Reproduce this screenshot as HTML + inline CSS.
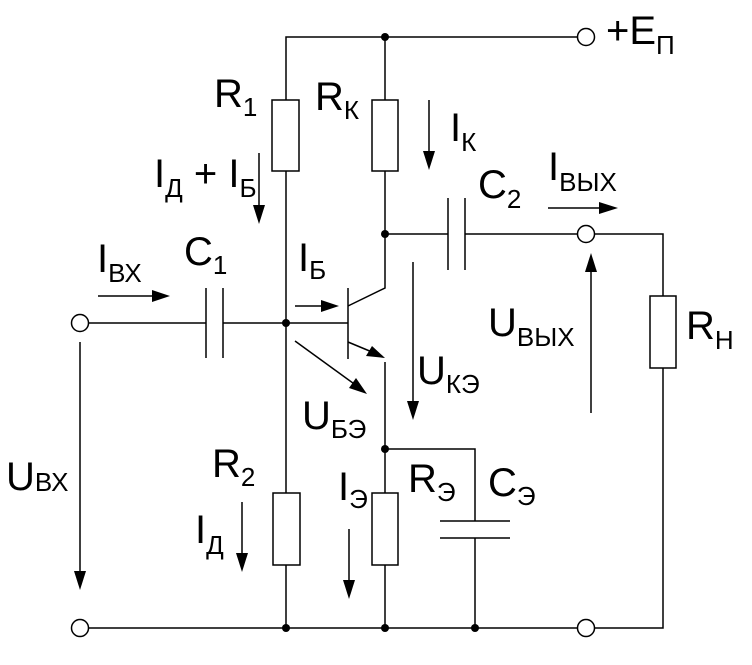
<!DOCTYPE html>
<html><head><meta charset="utf-8"><style>
html,body{margin:0;padding:0;background:#fff}
svg{display:block}
text{font-family:"Liberation Sans",sans-serif;fill:#000}
.m{font-size:40px}
.s{font-size:26px}
</style></head><body>
<svg width="752" height="665" viewBox="0 0 752 665" xmlns="http://www.w3.org/2000/svg">
<g stroke="#000" stroke-width="1.5" fill="none">
<polyline points="286,100 286,37 577,37"/>
<line x1="385" y1="37" x2="385" y2="100"/>
<rect x="272" y="100" width="27" height="71"/>
<line x1="286" y1="171" x2="286" y2="493"/>
<rect x="273" y="493" width="27" height="72"/>
<line x1="286" y1="565" x2="286" y2="628"/>
<rect x="372" y="100" width="26" height="71"/>
<polyline points="385,171 385,288 348,306"/>
<line x1="385" y1="234" x2="448" y2="234"/>
<line x1="448" y1="198" x2="448" y2="270"/>
<line x1="465" y1="198" x2="465" y2="270"/>
<line x1="465" y1="234" x2="577" y2="234"/>
<polyline points="594,234 663,234 663,296"/>
<rect x="650" y="296" width="26" height="72"/>
<polyline points="663,368 663,628 594,628"/>
<line x1="88" y1="323" x2="206" y2="323"/>
<line x1="206" y1="288" x2="206" y2="358"/>
<line x1="223" y1="288" x2="223" y2="358"/>
<line x1="223" y1="323" x2="348" y2="323"/>
<line x1="348" y1="288" x2="348" y2="359"/>
<line x1="348" y1="342" x2="372" y2="352"/>
<line x1="385" y1="362" x2="385" y2="493"/>
<polyline points="385,449 475,449 475,521"/>
<line x1="440" y1="521" x2="510" y2="521"/>
<line x1="440" y1="538" x2="510" y2="538"/>
<line x1="475" y1="538" x2="475" y2="628"/>
<rect x="372" y="493" width="26" height="72"/>
<line x1="385" y1="565" x2="385" y2="628"/>
<line x1="88" y1="628" x2="577" y2="628"/>
<circle cx="586" cy="37" r="8.5"/>
<circle cx="586" cy="234" r="8.5"/>
<circle cx="80" cy="323" r="8.5"/>
<circle cx="80" cy="628" r="8.5"/>
<circle cx="586" cy="628" r="8.5"/>
<line x1="98" y1="296" x2="156" y2="296"/>
<line x1="295" y1="306" x2="326" y2="306"/>
<line x1="295" y1="341" x2="357" y2="386"/>
<line x1="413" y1="262" x2="413" y2="402"/>
<line x1="429" y1="100" x2="429" y2="152"/>
<line x1="259" y1="153" x2="259" y2="206"/>
<line x1="548" y1="208" x2="600" y2="208"/>
<line x1="591" y1="271" x2="591" y2="413"/>
<line x1="80" y1="342" x2="80" y2="572"/>
<line x1="242" y1="502" x2="242" y2="554"/>
<line x1="349" y1="529" x2="349" y2="581"/>
</g>
<g fill="#000">
<circle cx="385" cy="37" r="4"/>
<circle cx="385" cy="234" r="4"/>
<circle cx="286" cy="323" r="4"/>
<circle cx="385" cy="449" r="4"/>
<circle cx="286" cy="628" r="4"/>
<circle cx="385" cy="628" r="4"/>
<circle cx="475" cy="628" r="4"/>
<polygon points="170,296 152,290 152,302"/>
<polygon points="339,306 321,300 321,312"/>
<polygon points="385,358 366,356 372,346"/>
<polygon points="367,394 349,388 356,378"/>
<polygon points="413,420 407,401 419,401"/>
<polygon points="429,170 423,151 435,151"/>
<polygon points="259,224 253,205 265,205"/>
<polygon points="618,208 599,202 599,214"/>
<polygon points="591,253 585,272 597,272"/>
<polygon points="80,590 74,571 86,571"/>
<polygon points="242,572 236,553 248,553"/>
<polygon points="349,599 343,580 355,580"/>
</g>
<text class="m" x="606" y="44">+E<tspan class="s" dy="10">П</tspan></text>
<text class="m" x="214" y="107">R<tspan class="s" dy="9">1</tspan></text>
<text class="m" x="315" y="110">R<tspan class="s" dy="9">К</tspan></text>
<text class="m" x="450" y="141">I<tspan class="s" dy="10">К</tspan></text>
<text class="m" x="154" y="187">I<tspan class="s" dy="10">Д</tspan><tspan dy="-10"> + </tspan>I<tspan class="s" dy="10">Б</tspan></text>
<text class="m" x="478" y="198">C<tspan class="s" dy="10">2</tspan></text>
<text class="m" x="548" y="180">I<tspan class="s" dy="11">ВЫХ</tspan></text>
<text class="m" x="97" y="272">I<tspan class="s" dy="10">ВХ</tspan></text>
<text class="m" x="184" y="265">C<tspan class="s" dy="9">1</tspan></text>
<text class="m" x="298" y="271">I<tspan class="s" dy="8">Б</tspan></text>
<text class="m" x="488" y="336">U<tspan class="s" dy="10">ВЫХ</tspan></text>
<text class="m" x="686" y="339">R<tspan class="s" dy="10">Н</tspan></text>
<text class="m" x="417" y="384">U<tspan class="s" dy="9">КЭ</tspan></text>
<text class="m" x="302" y="429">U<tspan class="s" dy="9">БЭ</tspan></text>
<text class="m" x="6" y="490">U<tspan class="s" dy="1">ВХ</tspan></text>
<text class="m" x="212" y="477">R<tspan class="s" dy="9">2</tspan></text>
<text class="m" x="338" y="500">I<tspan class="s" dy="8">Э</tspan></text>
<text class="m" x="408" y="492">R<tspan class="s" dy="9">Э</tspan></text>
<text class="m" x="488" y="496">C<tspan class="s" dy="9">Э</tspan></text>
<text class="m" x="195" y="543">I<tspan class="s" dy="11">Д</tspan></text>
</svg>
</body></html>
